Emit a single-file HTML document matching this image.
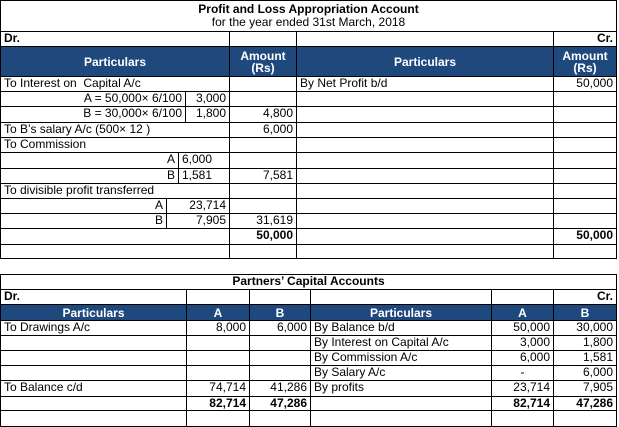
<!DOCTYPE html>
<html><head><meta charset="utf-8">
<style>
html,body{margin:0;padding:0;background:#fff;}
#root{position:relative;width:619px;height:427px;overflow:hidden;font-family:"Liberation Sans",Arial,sans-serif;font-size:12px;color:#000;}
.c{position:absolute;box-sizing:border-box;border:1px solid #000;padding:0 3px;line-height:13px;white-space:nowrap;overflow:hidden;}
.h{background:#1F497D;color:#fff;font-weight:bold;text-align:center;display:flex;align-items:center;justify-content:center;line-height:12px;}
.r{text-align:right;}
.ctr{text-align:center;}
.b{font-weight:bold;}
</style></head>
<body>
<div id="root"></div>
<script>
const root=document.getElementById('root');
function cell(x1,y1,x2,y2,text,cls,name){
  const el=document.createElement('div');
  el.className='c '+(cls||'');
  el.style.left=x1+'px';el.style.top=y1+'px';
  el.style.width=(x2-x1+1)+'px';el.style.height=(y2-y1+1)+'px';
  el.innerHTML=text||'';
  
  
  root.appendChild(el);
  return el;
}
// ---------- Top table ----------
cell(0,0,616,258,'','','pl-account-frame');
cell(0,0,616,31,'<div class="b" style="text-align:center;font-size:12px;margin-top:2px">Profit and Loss Appropriation Account</div><div style="text-align:center">for the year ended 31st March, 2018</div>','','pl-title');
cell(0,31,229,46,'<b>Dr.</b>','','dr-label');
cell(229,31,296,46,'','','blank');
cell(296,31,553,46,'','','blank');
cell(553,31,616,46,'<b>Cr.</b>','r','cr-label');
cell(0,46,229,76,'Particulars','h','header-particulars');
cell(229,46,296,76,'Amount<br>(Rs)','h','header-amount');
cell(296,46,553,76,'Particulars','h','header-particulars-right');
cell(553,46,616,76,'Amount<br>(Rs)','h','header-amount-right');
const rowsY=[76,91,106,122,137,152,168,183,198,213,228,244,258];
const leftText=['To Interest on&nbsp; Capital A/c','','','To B\u2019s salary A/c (500\u00d7 12 )','To Commission','','','To divisible profit transferred','','','',''];
const leftAmt=['','','4,800','6,000','','','7,581','','','31,619','<b>50,000</b>',''];
const rightText=['By Net Profit b/d','','','','','','','','','','',''];
const rightAmt=['50,000','','','','','','','','','','<b>50,000</b>',''];
for(let i=0;i<12;i++){
  const y1=rowsY[i],y2=rowsY[i+1];
  if([0,3,4,7,10,11].includes(i)) cell(0,y1,229,y2,leftText[i],'','row-particulars');
  cell(229,y1,296,y2,leftAmt[i],'r','row-amount');
  cell(296,y1,553,y2,rightText[i],'','row-particulars-right');
  cell(553,y1,616,y2,rightAmt[i],'r','row-amount-right');
}
cell(0,91,185,106,'A = 50,000\u00d7 6/100','r','interest-a');
cell(185,91,229,106,'3,000','r','interest-a-value');
cell(0,106,185,122,'B = 30,000\u00d7 6/100','r','interest-b');
cell(185,106,229,122,'1,800','r','interest-b-value');
cell(0,152,178,168,'A','r','commission-a');
cell(178,152,229,168,'6,000','','commission-a-value');
cell(0,168,178,183,'B','r','commission-b');
cell(178,168,229,183,'1,581','','commission-b-value');
cell(0,198,166,213,'A','r','profit-a');
cell(166,198,229,213,'23,714','r','profit-a-value');
cell(0,213,166,228,'B','r','profit-b');
cell(166,213,229,228,'7,905','r','profit-b-value');

// ---------- Bottom table ----------
cell(0,274,616,426,'','','capital-frame');
cell(0,274,616,289,'<b>Partners\u2019 Capital Accounts</b>','ctr','capital-title');
const cx=[0,186,249,310,491,553,616];
const drRow=['<b>Dr.</b>','','','','','<b>Cr.</b>'];
for(let j=0;j<6;j++) cell(cx[j],289,cx[j+1],304,drRow[j],j==5?'r':'','capital-dr-row');
const hdr=['Particulars','A','B','Particulars','A','B'];
for(let j=0;j<6;j++) cell(cx[j],304,cx[j+1],320,hdr[j],'h','capital-header');
const by=[320,335,350,365,380,396,410,426];
const capRows=[
 ['To Drawings A/c','8,000','6,000','By Balance b/d','50,000','30,000'],
 ['','','','By Interest on Capital A/c','3,000','1,800'],
 ['','','','By Commission A/c','6,000','1,581'],
 ['','','','By Salary A/c','-','6,000'],
 ['To Balance c/d','74,714','41,286','By profits','23,714','7,905'],
 ['','<b>82,714</b>','<b>47,286</b>','','<b>82,714</b>','<b>47,286</b>'],
 ['','','','','','']
];
for(let i=0;i<7;i++){
  for(let j=0;j<6;j++){
    let cls=(j==0||j==3)?'':'r';
    if(i==3&&j==4) cls='ctr';
    cell(cx[j],by[i],cx[j+1],by[i+1],capRows[i][j],cls,'capital-cell');
  }
}
</script>
</body></html>
